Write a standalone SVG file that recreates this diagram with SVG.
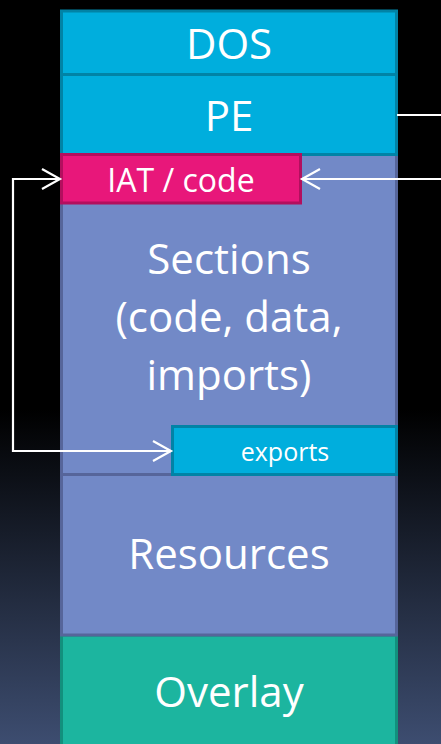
<svg xmlns="http://www.w3.org/2000/svg" width="441" height="744" viewBox="0 0 441 744">
<defs>
<linearGradient id="bg" x1="0" y1="0" x2="0" y2="1">
<stop offset="0" stop-color="#000000"/>
<stop offset="0.55" stop-color="#000000"/>
<stop offset="1" stop-color="#3d4d70"/>
</linearGradient>
<marker id="ah" markerUnits="userSpaceOnUse" markerWidth="24" markerHeight="24" viewBox="-20 -12 22 24" refX="0" refY="0" orient="auto">
<path d="M-18,-10 L0,0 L-18,10" fill="none" stroke="#ffffff" stroke-width="2.2"/>
</marker>
<style>
.cyan{fill:#00aedd;stroke:#0183a6;stroke-width:3}
.sec{fill:#7289c7;stroke:#56659a;stroke-width:3}
.ovl{fill:#1cb59f;stroke:#12907d;stroke-width:3}
.iat{fill:#e8177a;stroke:#b20f5e;stroke-width:3}
.t{fill:#ffffff;font-family:"Open Sans","Noto Sans",sans-serif;text-anchor:middle}
.big{font-size:42px}
.conn{fill:none;stroke:#ffffff;stroke-width:2.2}
</style>
</defs>
<rect x="0" y="0" width="441" height="744" fill="url(#bg)"/>
<g id="overlay">
<rect class="ovl" x="61.5" y="635" width="335" height="115"/>
<text class="t big" x="229" y="707">Overlay</text>
</g>
<g id="resources">
<rect class="sec" x="61.5" y="474.5" width="335" height="160.5"/>
<text class="t big" x="229" y="569">Resources</text>
</g>
<g id="sections">
<rect class="sec" x="61.5" y="154.5" width="335" height="320"/>
<text class="t big" x="229" y="274">Sections</text>
<text class="t big" x="229" y="332">(code, data,</text>
<text class="t big" x="229" y="390">imports)</text>
</g>
<g id="pe">
<rect class="cyan" x="61.5" y="74.5" width="335" height="80"/>
<text class="t big" x="229" y="131">PE</text>
</g>
<g id="dos">
<rect class="cyan" x="61.5" y="11" width="335" height="63.5"/>
<text class="t big" x="229" y="59">DOS</text>
</g>
<g id="iat">
<rect class="iat" x="61.5" y="154.5" width="239" height="48.5"/>
<text class="t" font-size="32" x="181" y="192">IAT / code</text>
</g>
<g id="exports">
<rect class="cyan" x="172.5" y="426.5" width="224" height="48"/>
<text class="t" font-size="25" x="285" y="461">exports</text>
</g>
<g id="connectors">
<path class="conn" d="M397,115 L441,115"/>
<path class="conn" d="M441,179 L302,179" marker-end="url(#ah)"/>
<path class="conn" d="M13,178 L13,452"/>
<path class="conn" d="M12,179 L60,179" marker-end="url(#ah)"/>
<path class="conn" d="M12,451 L171,451" marker-end="url(#ah)"/>
</g>
</svg>
